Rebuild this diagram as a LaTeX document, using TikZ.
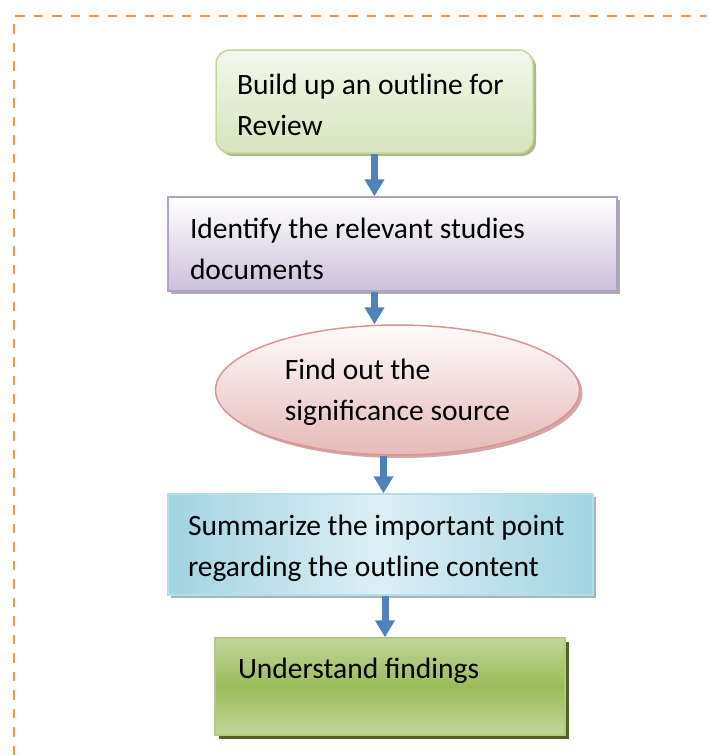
\documentclass[tikz,border=0pt]{standalone}
\usepackage{fontspec}
\setmainfont{Carlito}
\usetikzlibrary{arrows.meta,shapes.geometric,shadows}

\definecolor{frameorange}{HTML}{F79646}
\definecolor{arrowblue}{HTML}{4F81BD}
\definecolor{greenlight}{HTML}{F3F8EC}
\definecolor{greenmid}{HTML}{D7E4BD}
\definecolor{greenedge}{HTML}{C3D69B}
\definecolor{purpledark}{HTML}{CCC0DA}
\definecolor{purpleedge}{HTML}{B2A1C7}
\definecolor{pinkdark}{HTML}{E6B9B8}
\definecolor{pinkedge}{HTML}{D99694}
\definecolor{bluelight}{HTML}{DDEFF5}
\definecolor{bluedark}{HTML}{93CDDD}
\definecolor{blueedge}{HTML}{B7DDE8}
\definecolor{olive}{HTML}{9BBB59}
\definecolor{olivedark}{HTML}{4F6228}

\tikzset{
  stepnode/.style={draw, line width=1.5pt, align=flush left, inner ysep=0pt,
    text height=23pt, text depth=44pt,
    font=\fontsize{29.5}{41}\selectfont},
  flow/.style={draw=arrowblue, line width=7pt,
    -{Triangle[width=19pt,length=17pt]}},
}

\begin{document}
\begin{tikzpicture}[x=1pt,y=-1pt]
\useasboundingbox (0,0) rectangle (707,755);

%Frame
\draw [frameorange, line width=2pt, dash pattern=on 9.5pt off 9pt]
  (14,755) -- (14,16) -- (707,16);

%Steps
\node [stepnode, rounded corners=14pt, draw=greenedge,
  top color=greenlight, bottom color=greenmid,
  drop shadow={shadow xshift=3pt, shadow yshift=-3pt, fill=olive!70!gray, opacity=0.8},
  minimum width=317, minimum height=103, text width=275, inner xsep=21,
  text height=26pt, text depth=40pt]
  (build) at (374.5,101.5) {Build up an outline for\\Review};

\node [stepnode, draw=purpleedge, top color=white, bottom color=purpledark,
  drop shadow={shadow xshift=3pt, shadow yshift=-3pt, fill=gray!80, opacity=0.8},
  minimum width=449, minimum height=94, text width=405, inner xsep=22,
  text height=28pt, text depth=39pt]
  (identify) at (392.5,244) {Identify the relevant studies\\documents};

\node [stepnode, ellipse, draw=pinkedge, top color=white!95!pinkdark, bottom color=pinkdark,
  drop shadow={shadow xshift=3pt, shadow yshift=-3pt, fill=pinkedge!80!gray, opacity=0.8},
  minimum width=364, minimum height=130, inner sep=0pt, text height=61pt, text depth=0pt]
  (source) at (397.5,390) {Find out the\\significance source};

\node [stepnode, draw=blueedge, left color=bluedark!80!bluelight, right color=bluedark!80!bluelight,
  middle color=bluelight,
  drop shadow={shadow xshift=3pt, shadow yshift=-3pt, fill=bluedark!50!gray, opacity=0.8},
  minimum width=425, minimum height=101, text width=385, inner xsep=20,
  text height=24pt, text depth=43pt]
  (summary) at (380.5,544.5) {Summarize the important point\\regarding the outline content};

\node [stepnode, draw=greenedge!60!olive, top color=greenedge, bottom color=greenedge,
  middle color=olive,
  drop shadow={shadow xshift=4pt, shadow yshift=-4pt, fill=olivedark, opacity=1},
  minimum width=350, minimum height=97, text width=304, inner xsep=23,
  text height=25pt, text depth=42pt]
  (findings) at (390,686.5) {Understand findings};

%Arrows
\draw [flow] (build.south) -- (build.south |- identify.north);
\draw [flow] (identify.south -| build.south) -- (build.south |- source.north);
\draw [flow] ([xshift=-14pt]source.south) -- ([xshift=-14pt]source.south |- summary.north);
\draw [flow] ([xshift=4.5pt]summary.south) -- ([xshift=4.5pt]summary.south |- findings.north);

\end{tikzpicture}
\end{document}
